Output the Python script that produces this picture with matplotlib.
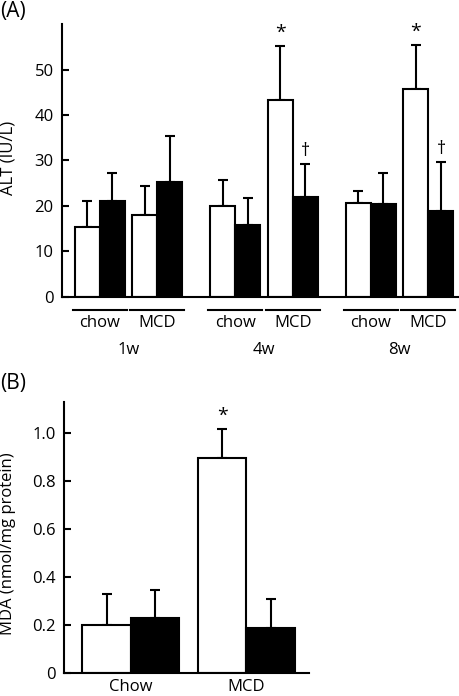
import numpy as np
import matplotlib
matplotlib.use("Agg")
import matplotlib.pyplot as plt
import matplotlib.transforms as mtransforms

plt.rcParams['font.family'] = ['Open Sans', 'DejaVu Sans']

# panel A: ALT, order 1w chow, 1w MCD, 4w chow, 4w MCD, 8w chow, 8w MCD
weeks = ['1w', '4w', '8w']
diets = ['chow', 'MCD']
alt_white = [15.3, 18.1, 19.9, 43.2, 20.6, 45.8]
alt_white_err = [5.9, 6.4, 5.9, 12.0, 2.8, 9.6]
alt_black = [21.0, 25.3, 15.9, 22.0, 20.4, 18.9]
alt_black_err = [6.2, 10.1, 5.9, 7.2, 6.9, 10.7]
alt_white_marks = ['', '', '', '*', '', '*']
alt_black_marks = ['', '', '', '\u2020', '', '\u2020']

# panel B: MDA
mda_groups = ['Chow', 'MCD']
mda_white = [0.20, 0.895]
mda_white_err = [0.13, 0.123]
mda_black = [0.23, 0.186]
mda_black_err = [0.115, 0.124]
mda_white_marks = ['', '*']
mda_black_marks = ['', '']

LW = 1.5
FS = 12


def draw_pairs(ax, centers, white, white_err, black, black_err, w_marks, b_marks, width=1.0):
    centers = np.asarray(centers)
    ekw = dict(elinewidth=LW, capthick=LW, capsize=3.5, ecolor='black', zorder=1)
    ax.bar(centers - width / 2, white, width, color='white', edgecolor='black',
           linewidth=LW, yerr=[np.zeros(len(white)), white_err], error_kw=ekw, zorder=2)
    ax.bar(centers + width / 2, black, width, color='black', edgecolor='black',
           linewidth=LW, yerr=[np.zeros(len(black)), black_err], error_kw=ekw, zorder=2)
    for x, v, e, m in zip(centers - width / 2, white, white_err, w_marks):
        if m:
            ax.annotate(m, (x, v + e), xytext=(0, 3), textcoords='offset points',
                        ha='center', va='bottom', fontsize=FS + 2)
    for x, v, e, m in zip(centers + width / 2, black, black_err, b_marks):
        if m:
            ax.annotate(m, (x, v + e), xytext=(0, 3), textcoords='offset points',
                        ha='center', va='bottom', fontsize=FS + 1)


def style_axis(ax):
    ax.spines['top'].set_visible(False)
    ax.spines['right'].set_visible(False)
    ax.spines['left'].set_linewidth(LW)
    ax.spines['bottom'].set_linewidth(LW)
    ax.tick_params(axis='y', direction='in', length=5, width=LW, labelsize=FS, pad=6)


fig = plt.figure(figsize=(4.6, 6.96), dpi=100)

# ---- (A) ALT
axA = fig.add_axes([0.1348, 0.5733, 0.8652, 0.3922])
centers = [wi * 5.4 + di * 2.3 for wi in range(len(weeks)) for di in range(len(diets))]
draw_pairs(axA, centers, alt_white, alt_white_err, alt_black, alt_black_err,
           alt_white_marks, alt_black_marks)
axA.set_xlim(-1.5, 14.36)
axA.set_ylim(0, 60)
axA.set_yticks([0, 10, 20, 30, 40, 50])
axA.set_xticks([])
style_axis(axA)
axA.set_ylabel('ALT (IU/L)', fontsize=FS)
axA.yaxis.set_label_coords(-0.115, 0.51)

trans = mtransforms.blended_transform_factory(axA.transData, axA.transAxes)
for i, c in enumerate(centers):
    axA.plot([c - 1.08, c + 1.08], [-0.047, -0.047], color='black', lw=LW,
             transform=trans, clip_on=False)
    axA.text(c, -0.095, diets[i % 2], transform=trans, ha='center', va='center', fontsize=FS)
for wi, wk in enumerate(weeks):
    axA.text(wi * 5.4 + 1.15, -0.194, wk, transform=trans, ha='center', va='center', fontsize=FS)

fig.text(0.0, 1 - 12 / 696, '(A)', ha='left', va='center', fontsize=FS + 3)

# ---- (B) MDA
axB = fig.add_axes([0.139, 0.033, 0.533, 0.3894])
centersB = [i * 2.38 for i in range(len(mda_groups))]
draw_pairs(axB, centersB, mda_white, mda_white_err, mda_black, mda_black_err,
           mda_white_marks, mda_black_marks)
axB.set_xlim(-1.38, 2.38 + 1.29)
axB.set_ylim(0, 1.13)
axB.set_yticks([0, 0.2, 0.4, 0.6, 0.8, 1.0])
axB.set_yticklabels(['0', '0.2', '0.4', '0.6', '0.8', '1.0'])
axB.set_xticks(centersB)
axB.set_xticklabels(mda_groups)
style_axis(axB)
axB.tick_params(axis='x', length=0, labelsize=FS, pad=4)
axB.set_ylabel('MDA (nmol/mg protein)', fontsize=FS)
axB.yaxis.set_label_coords(-0.195, 0.476)

fig.text(0.0, 1 - 384 / 696, '(B)', ha='left', va='center', fontsize=FS + 3)

fig.savefig('out.png', dpi=100)
